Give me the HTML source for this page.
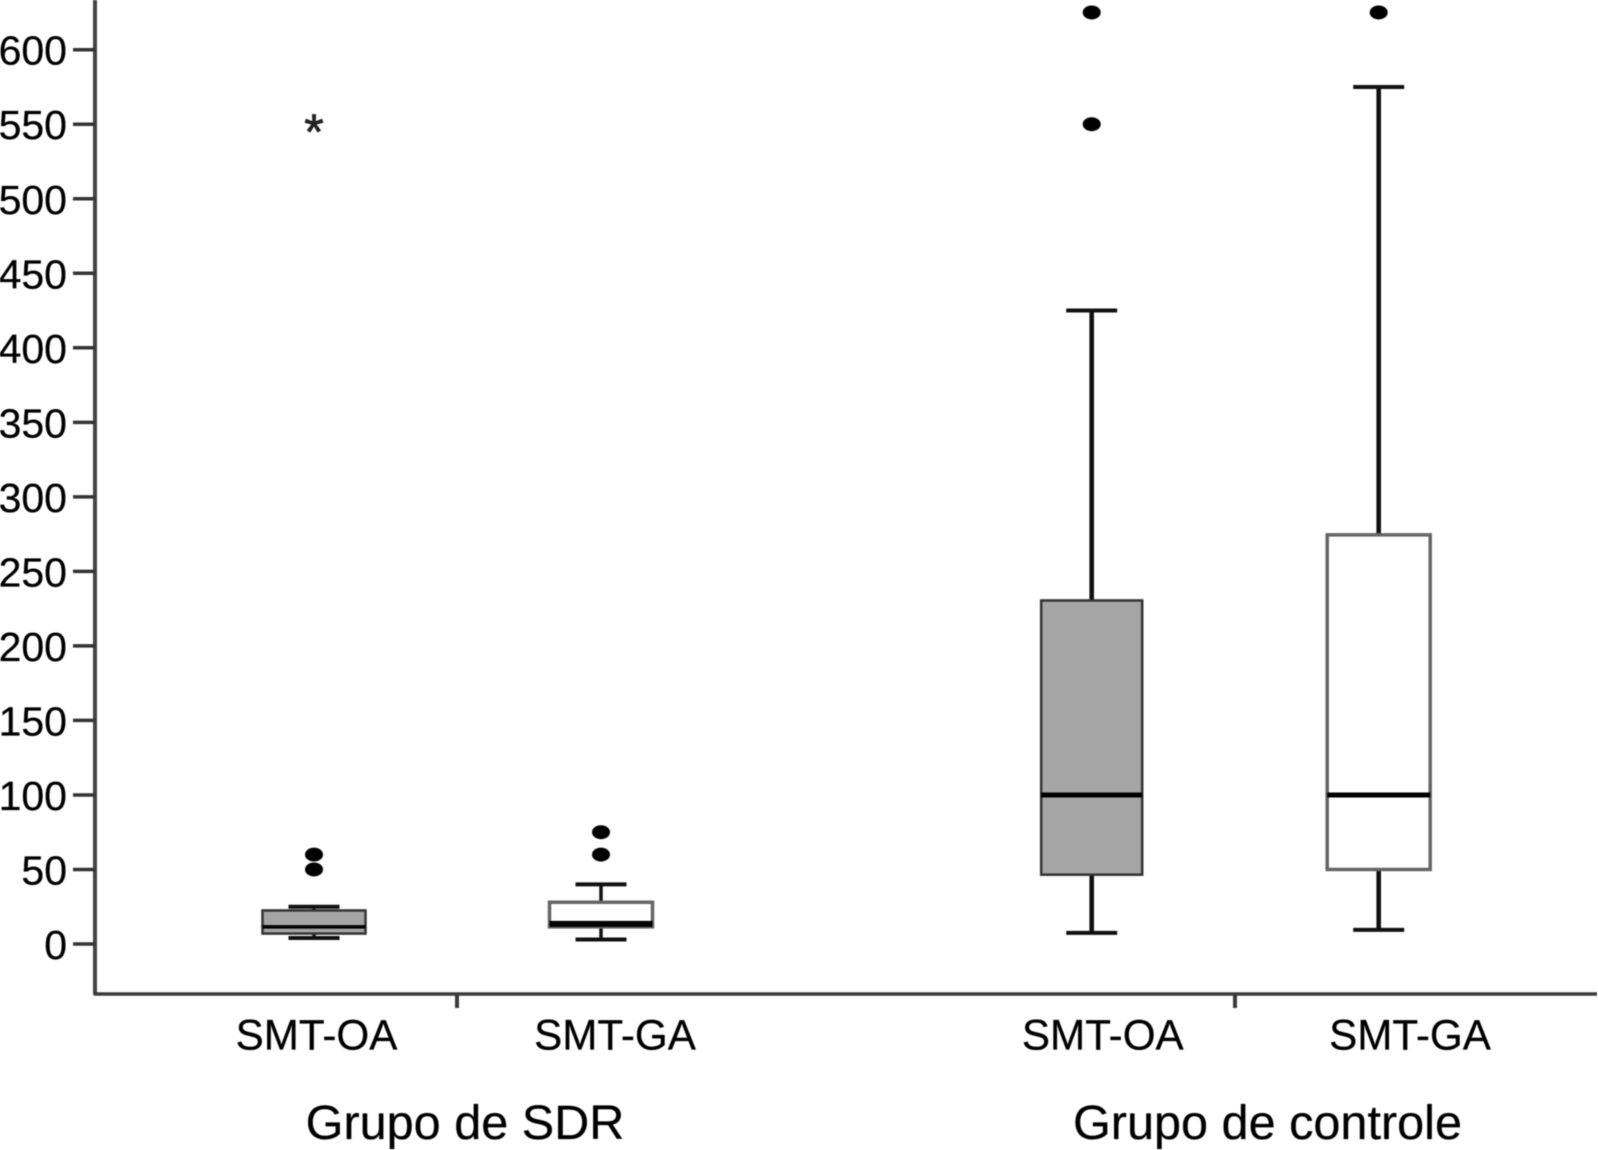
<!DOCTYPE html>
<html lang="pt">
<head>
<meta charset="utf-8">
<title>Boxplot SMT-OA e SMT-GA</title>
<style>
html,body{margin:0;padding:0;background:#fff;width:1598px;height:1150px;overflow:hidden}
svg{display:block;filter:blur(.4px)}
text{font-family:"Liberation Sans",Arial,sans-serif;fill:#000;stroke:#000;stroke-width:.25px}
</style>
</head>
<body>
<svg id="chart" xmlns="http://www.w3.org/2000/svg" width="1598" height="1150" viewBox="0 0 1598 1150"></svg>
<script>
const groupNames = ["Grupo de SDR", "Grupo de controle"];
const boxNames = ["SMT-OA", "SMT-GA"];
const yTickValues = [0, 50, 100, 150, 200, 250, 300, 350, 400, 450, 500, 550, 600];
const whiskerLow = [4, 3, 7.5, 9.5];
const quartile1 = [7, 11.5, 46.5, 50];
const medians = [11.5, 13.5, 100, 100];
const quartile3 = [22.5, 28, 230.5, 274.5];
const whiskerHigh = [25, 40, 425, 575];
const outlierBox = [0, 0, 1, 1, 2, 2, 3];
const outlierValues = [50, 60, 60, 75, 550, 625, 625];
const extremeBox = [0];
const extremeValues = [550];

const svg = document.getElementById('chart');
const NS = 'http://www.w3.org/2000/svg';
const yScale = v => 944 - v * 1.4905;
const xBox = i => 314 + Math.floor(i / 2) * 777.7 + (i % 2) * 287;
const xGroupTick = g => 457 + g * 778;
const xGroupLabel = g => 465 + g * 802.5;
const xBoxLabel = i => (i < 2 ? 317 + (i % 2) * 298.5 : 1103.3 + (i % 2) * 307.2);

function make(tag, attrs, parent) {
  const el = document.createElementNS(NS, tag);
  for (const k in attrs) el.setAttribute(k, attrs[k]);
  (parent || svg).appendChild(el);
  return el;
}

// y axis
let yAxis = make('line', {x1: 95, y1: 0, x2: 95, y2: 995, stroke: '#444', 'stroke-width': 4});



// x axis
let xAxis = make('line', {x1: 94, y1: 994, x2: 1597, y2: 994, stroke: '#3a3a3a', 'stroke-width': 3.5});



yTickValues.forEach(v => {
  const tick = make('line', {x1: 73, y1: yScale(v), x2: 95, y2: yScale(v), stroke: '#333', 'stroke-width': 3.5});
  
  
  const label = make('text', {x: 67, y: yScale(v) + 15, 'text-anchor': 'end', 'font-size': 41});
  label.textContent = v;
  
  
});

groupNames.forEach((name, g) => {
  const tick = make('line', {x1: xGroupTick(g), y1: 994, x2: xGroupTick(g), y2: 1008, stroke: '#3a3a3a', 'stroke-width': 4});
  
  
  const label = make('text', {x: xGroupLabel(g), y: 1139, 'text-anchor': 'middle', 'font-size': 48.6});
  label.textContent = name;
  
  
});

medians.forEach((median, i) => {
  const cx = xBox(i);
  const isOA = i % 2 === 0;
  const big = i >= 2;
  const halfBox = i === 2 ? 50.5 : 51.5;
  const halfCap = 25.5;
  const whiskerWidth = big ? 4.6 : 3.5;
  const g = make('g', {});
  
  

  make('line', {x1: cx, y1: yScale(whiskerHigh[i]), x2: cx, y2: yScale(quartile3[i]), stroke: '#111', 'stroke-width': whiskerWidth}, g);
  make('line', {x1: cx, y1: yScale(quartile1[i]), x2: cx, y2: yScale(whiskerLow[i]), stroke: '#111', 'stroke-width': whiskerWidth}, g);
  make('line', {x1: cx - halfCap, y1: yScale(whiskerHigh[i]), x2: cx + halfCap, y2: yScale(whiskerHigh[i]), stroke: '#111', 'stroke-width': big ? 4 : 4}, g);
  make('line', {x1: cx - halfCap, y1: yScale(whiskerLow[i]), x2: cx + halfCap, y2: yScale(whiskerLow[i]), stroke: '#111', 'stroke-width': big ? 4 : 4}, g);
  make('rect', {
    x: cx - halfBox,
    y: yScale(quartile3[i]),
    width: halfBox * 2,
    height: yScale(quartile1[i]) - yScale(quartile3[i]),
    fill: isOA ? '#a5a5a5' : '#fff',
    stroke: isOA ? '#333' : '#666',
    'stroke-width': isOA ? 2.5 : 3.5
  }, g);
  make('line', {x1: cx - halfBox, y1: yScale(median), x2: cx + halfBox, y2: yScale(median), stroke: '#000', 'stroke-width': i === 1 ? 6 : (i === 0 ? 3.5 : 5)}, g);

  const label = make('text', {x: xBoxLabel(i) - 0.5, y: 1049.5, 'text-anchor': 'middle', 'font-size': 42.2});
  label.textContent = boxNames[i % 2];
  
  
});

outlierValues.forEach((v, k) => {
  const dot = make('ellipse', {cx: xBox(outlierBox[k]), cy: yScale(v), rx: 9, ry: 7, fill: '#000'});
  
  
});

extremeValues.forEach((v, k) => {
  const star = make('text', {x: xBox(extremeBox[k]), y: yScale(v) + 25, 'text-anchor': 'middle', 'font-size': 50});
  star.textContent = '*';
  star.style.fill = '#222';
  star.style.stroke = '#222';
  star.style.strokeWidth = '.8px';
  
  
});
</script>
</body>
</html>
